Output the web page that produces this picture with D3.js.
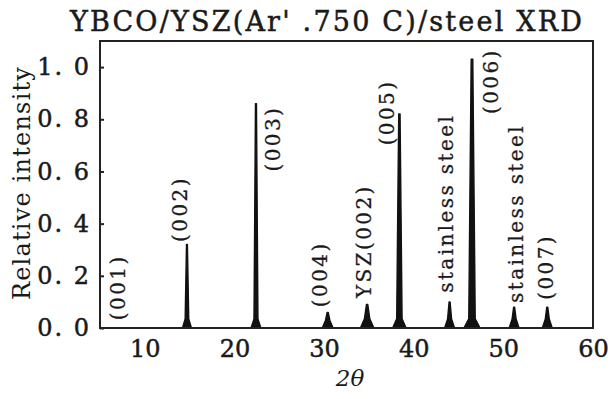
<!DOCTYPE html>
<html>
<head>
<meta charset="utf-8">
<script src="https://cdn.jsdelivr.net/npm/d3@7"></script>
<style>
  html, body { margin: 0; padding: 0; background: #fff; }
  svg text { font-family: "DejaVu Serif", "Liberation Serif", serif; fill: #1a1a1a; }
</style>
</head>
<body>
<div id="chart"></div>
<script>
(function() {
    // values
    const xTicks = [10, 20, 30, 40, 50, 60];
    const yTicks = [0, 0.2, 0.4, 0.6, 0.8, 1.0];

    const peakPos    = [14.7, 22.4, 30.4, 34.8, 38.4, 44.0, 46.5, 51.2, 54.9];
    const peakHeight = [0.32, 0.86, 0.06, 0.09, 0.82, 0.10, 1.03, 0.08, 0.08];
    const peakWidth  = [1.0, 1.1, 1.2, 1.5, 1.5, 1.1, 1.8, 1.1, 1.1];

    const labelText = ['(001)', '(002)', '(003)', '(004)', 'YSZ(002)', '(005)', 'stainless steel', '(006)', 'stainless steel', '(007)'];
    const labelX    = [7.0, 13.9, 24.3, 29.5, 34.5, 37.0, 43.6, 48.6, 51.4, 54.8];
    const labelY    = [0.03, 0.33, 0.60, 0.08, 0.115, 0.70, 0.135, 0.82, 0.096, 0.108];

    const W = 611, H = 399;
    const svg = d3.select('#chart').append('svg').attr('width', W).attr('height', H);

    const x = d3.scaleLinear().domain([5, 60]).range([100, 593]);
    const y = d3.scaleLinear().domain([0, 1.1]).range([328, 41]);

    // title
    svg.append('text').attr('x', 327).attr('y', 31).attr('text-anchor', 'middle')
        .style('font-size', '27px').style('letter-spacing', '2.2px')
        .attr('stroke', '#1a1a1a').attr('stroke-width', 0.5)
        .text("YBCO/YSZ(Ar' .750 C)/steel XRD");

    // peak outline: a low foot, then a narrow spike up to the peak height
    function peakShape(p, h, w) {
        const f = Math.min(0.035, h * 0.5);
        return [[p - 0.5 * w, 0], [p - 0.2 * w, f], [p - 0.05 * w, h],
                [p + 0.05 * w, h], [p + 0.2 * w, f], [p + 0.5 * w, 0]];
    }
    const line = d3.line().x(d => x(d[0])).y(d => y(d[1]));
    svg.append('path')
        .attr('d', line([[x.domain()[0], 0], [x.domain()[1], 0]]))
        .attr('stroke', '#111').attr('stroke-width', 2).attr('fill', 'none');
    svg.append('g').selectAll('path').data(peakPos).enter().append('path')
        .attr('d', (p, i) => line(peakShape(p, peakHeight[i], peakWidth[i])))
        .attr('fill', '#111').attr('stroke', '#111').attr('stroke-width', 1.4).attr('stroke-linejoin', 'round');

    // frame
    svg.append('rect')
        .attr('x', x.range()[0]).attr('y', y.range()[1])
        .attr('width', x.range()[1] - x.range()[0]).attr('height', y.range()[0] - y.range()[1])
        .attr('fill', 'none').attr('stroke', '#222').attr('stroke-width', 2);

    // y axis: inward ticks
    const yAxis = svg.append('g').attr('transform', `translate(${x.range()[0]},0)`)
        .call(d3.axisLeft(y).tickValues(yTicks).tickSizeInner(-4).tickSizeOuter(0).tickPadding(9)
            .tickFormat(d => d.toFixed(1).replace('.', '. ')));
    yAxis.select('.domain').remove();
    yAxis.selectAll('line').attr('stroke', '#222').attr('stroke-width', 2);
    yAxis.selectAll('text').style('font-size', '24px').style('font-family', '"DejaVu Serif", serif')
        .style('letter-spacing', '2px').style('white-space', 'pre')
        .attr('fill', '#1a1a1a').attr('stroke', '#1a1a1a').attr('stroke-width', 0.5);

    // x axis: labels only
    const xAxis = svg.append('g').attr('transform', `translate(0,${y.range()[0]})`)
        .call(d3.axisBottom(x).tickValues(xTicks).tickSize(0).tickPadding(12).tickFormat(d3.format('d')));
    xAxis.select('.domain').remove();
    xAxis.selectAll('text').style('font-size', '24px').style('font-family', '"DejaVu Serif", serif')
        .attr('fill', '#1a1a1a').attr('stroke', '#1a1a1a').attr('stroke-width', 0.5);

    svg.append('text').attr('x', 350).attr('y', 386).attr('text-anchor', 'middle')
        .style('font-size', '23px').style('font-style', 'italic').text('2θ');

    svg.append('text').attr('transform', 'translate(22,183) rotate(-90)').attr('text-anchor', 'middle')
        .attr('dy', '0.35em').style('font-size', '24px').style('letter-spacing', '1.2px')
        .text('Relative intensity');

    // peak annotations, rotated
    svg.append('g').selectAll('text').data(labelText).enter().append('text')
        .attr('transform', (d, i) => `translate(${x(labelX[i])},${y(labelY[i])}) rotate(-90)`)
        .attr('dy', '0.35em')
        .style('font-size', '20px').style('letter-spacing', '2.4px')
        .attr('stroke', '#1a1a1a').attr('stroke-width', 0.3)
        .text(d => d);
})();
</script>
</body>
</html>
